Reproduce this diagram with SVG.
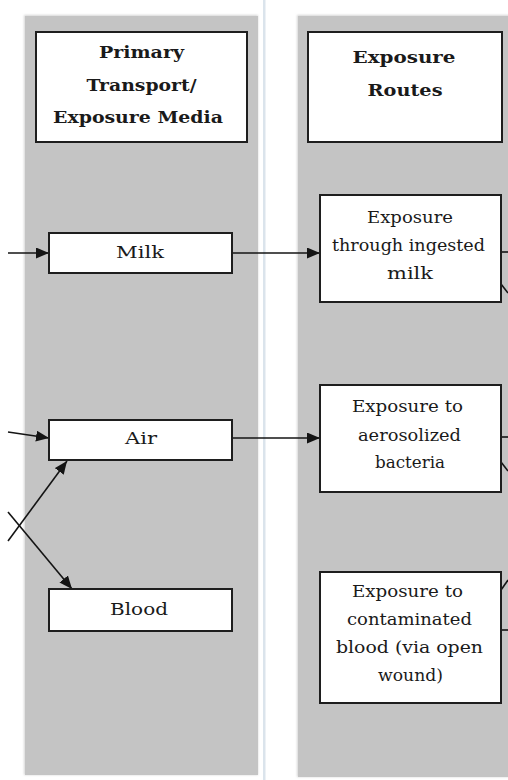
<svg xmlns="http://www.w3.org/2000/svg" width="508" height="780" viewBox="0 0 508 780">
  <style>
    .lane { fill: #c4c4c4; }
    .box { fill: #ffffff; stroke: #1e1e1e; stroke-width: 2; }
    .hd { font-family: "DejaVu Serif", "Liberation Serif", serif; font-weight: bold; font-size: 17.5px; fill: #1a1a1a; text-anchor: middle; }
    .lb { font-family: "DejaVu Serif", "Liberation Serif", serif; font-size: 17px; fill: #1a1a1a; text-anchor: middle; }
    .edge { stroke: #141414; stroke-width: 1.6; fill: none; }
  </style>
  <defs>
    <marker id="arrow" markerUnits="userSpaceOnUse" markerWidth="13" markerHeight="11" refX="13" refY="5.5" orient="auto">
      <path d="M0,0 L13,5.5 L0,11 Z" fill="#141414"/>
    </marker>
    <filter id="soft" x="-5%" y="-5%" width="110%" height="110%">
      <feGaussianBlur stdDeviation="1.2"/>
    </filter>
  </defs>

  <rect width="508" height="780" fill="#ffffff"/>

  <!-- swimlane backgrounds -->
  <g id="lanes">
    <rect x="24" y="15" width="234" height="760" fill="#d6d6d6" filter="url(#soft)"/>
    <rect class="lane" x="25" y="16" width="233" height="759"/>
    <rect x="297" y="15" width="215" height="762" fill="#d6d6d6" filter="url(#soft)"/>
    <rect class="lane" x="298" y="16" width="214" height="761"/>
    <rect x="263" y="0" width="2.5" height="780" fill="#dbe4ec"/>
  </g>

  <!-- connectors -->
  <g id="connectors">
    <line class="edge" x1="8" y1="253" x2="49" y2="253" marker-end="url(#arrow)"/>
    <line class="edge" x1="232" y1="253" x2="320" y2="253" marker-end="url(#arrow)"/>
    <line class="edge" x1="8" y1="432" x2="49" y2="438" marker-end="url(#arrow)"/>
    <line class="edge" x1="232" y1="438" x2="320" y2="438" marker-end="url(#arrow)"/>
    <line class="edge" x1="8" y1="541" x2="67" y2="461" marker-end="url(#arrow)"/>
    <line class="edge" x1="8" y1="512" x2="72" y2="589" marker-end="url(#arrow)"/>
    <line class="edge" x1="501" y1="252" x2="508" y2="252"/>
    <line class="edge" x1="501" y1="284" x2="508" y2="293"/>
    <line class="edge" x1="501" y1="437" x2="508" y2="437"/>
    <line class="edge" x1="501" y1="462" x2="508" y2="471"/>
    <line class="edge" x1="501" y1="630" x2="508" y2="630"/>
    <line class="edge" x1="501" y1="590" x2="508" y2="580"/>
  </g>

  <!-- lane headers -->
  <g id="header-media">
    <rect class="box" x="36" y="32" width="211" height="110"/>
    <text class="hd" x="141.5" y="58" textLength="85" lengthAdjust="spacingAndGlyphs">Primary</text>
    <text class="hd" x="141.5" y="91" textLength="110" lengthAdjust="spacingAndGlyphs">Transport/</text>
    <text class="hd" x="138" y="123" textLength="170" lengthAdjust="spacingAndGlyphs">Exposure Media</text>
  </g>
  <g id="header-routes">
    <rect class="box" x="308" y="32" width="194" height="110"/>
    <text class="hd" x="404" y="63" textLength="103" lengthAdjust="spacingAndGlyphs">Exposure</text>
    <text class="hd" x="405" y="96" textLength="75" lengthAdjust="spacingAndGlyphs">Routes</text>
  </g>

  <!-- transport media -->
  <g id="milk">
    <rect class="box" x="49" y="233" width="183" height="40"/>
    <text class="lb" x="140" y="258" textLength="48" lengthAdjust="spacingAndGlyphs">Milk</text>
  </g>
  <g id="air">
    <rect class="box" x="49" y="420" width="183" height="40"/>
    <text class="lb" x="141" y="444" textLength="32" lengthAdjust="spacingAndGlyphs">Air</text>
  </g>
  <g id="blood">
    <rect class="box" x="49" y="589" width="183" height="42"/>
    <text class="lb" x="139" y="615" textLength="58" lengthAdjust="spacingAndGlyphs">Blood</text>
  </g>

  <!-- exposure routes -->
  <g id="route-milk">
    <rect class="box" x="320" y="195" width="181" height="107"/>
    <text class="lb" x="410" y="223" textLength="86" lengthAdjust="spacingAndGlyphs">Exposure</text>
    <text class="lb" x="408.5" y="251" textLength="153" lengthAdjust="spacingAndGlyphs">through ingested</text>
    <text class="lb" x="410" y="279" textLength="46" lengthAdjust="spacingAndGlyphs">milk</text>
  </g>
  <g id="route-air">
    <rect class="box" x="320" y="385" width="181" height="107"/>
    <text class="lb" x="407.5" y="412" textLength="111" lengthAdjust="spacingAndGlyphs">Exposure to</text>
    <text class="lb" x="409.5" y="441" textLength="103" lengthAdjust="spacingAndGlyphs">aerosolized</text>
    <text class="lb" x="410" y="468" textLength="70" lengthAdjust="spacingAndGlyphs">bacteria</text>
  </g>
  <g id="route-blood">
    <rect class="box" x="320" y="572" width="181" height="131"/>
    <text class="lb" x="407.5" y="597" textLength="111" lengthAdjust="spacingAndGlyphs">Exposure to</text>
    <text class="lb" x="409.5" y="625" textLength="125" lengthAdjust="spacingAndGlyphs">contaminated</text>
    <text class="lb" x="409.5" y="653" textLength="147" lengthAdjust="spacingAndGlyphs">blood (via open</text>
    <text class="lb" x="410.5" y="681" textLength="65" lengthAdjust="spacingAndGlyphs">wound)</text>
  </g>
</svg>
